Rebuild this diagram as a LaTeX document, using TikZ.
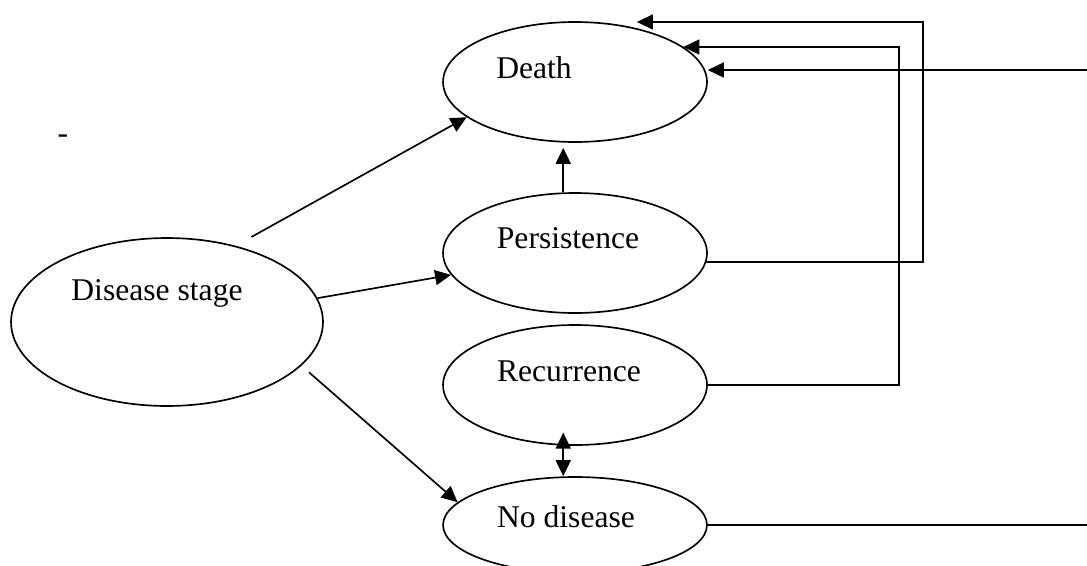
\documentclass[tikz,border=0pt]{standalone}
\usepackage{fontspec}
\setmainfont{Liberation Serif}
\usetikzlibrary{arrows.meta,shapes.geometric}

\begin{document}
\begin{tikzpicture}[x=0.02cm,y=-0.02cm,font=\fontsize{18}{22}\selectfont]
\tikzset{
  statenode/.style={ellipse,draw,line width=0.95pt,inner sep=0pt,minimum width=5.28cm,minimum height=2.4cm},
  directed/.style={-{Triangle[length=0.32cm,width=0.3cm]},line width=0.95pt},
  twoway/.style={{Triangle[length=0.32cm,width=0.3cm]}-{Triangle[length=0.32cm,width=0.3cm]},line width=0.95pt},
  plain/.style={line width=0.95pt}
}
\useasboundingbox (0,0) rectangle (1087,565);
\node[statenode,minimum width=6.24cm,minimum height=3.36cm,label={[shift={(-10,-29)}]center:Disease stage}] (n_stage) at (167,322) {};
\node[statenode,label={[shift={(-41,-14)}]center:Death}] (n_death) at (575,82) {};
\node[statenode,label={[shift={(-7,-15)}]center:Persistence}] (n_pers) at (575,253) {};
\node[statenode,label={[shift={(-6,-14)}]center:Recurrence}] (n_recur) at (575,385) {};
\node[statenode,minimum height=1.92cm,label={[shift={(-9,-8)}]center:No disease}] (n_nodis) at (575,525) {};
\node (n_dash) at (63,139) {-};
\coordinate (k_pers) at (923,22);
\coordinate (k_recur) at (899,47);
\coordinate (k_top) at (1087,70);
\coordinate (k_low) at (1087,525);
\draw[directed,shorten <=0.36cm] (n_stage.48) -- (n_death.198);
\draw[directed] (n_stage.9) -- (n_pers.190);
\draw[directed,shorten <=0.2cm] (n_stage.342) -- (n_nodis.169);
\draw[directed,shorten >=0.1cm] (n_pers.101) -- (n_pers.101 |- n_death.south);
\draw[twoway,shorten <=-0.26cm] (n_recur.259) -- (n_recur.259 |- n_nodis.north);
\draw[directed] (n_pers.356) -| (k_pers) -- (k_pers -| n_death.41);
\draw[directed] (n_recur.east) -| (k_recur) -- (k_recur -| n_death.18);
\draw[plain] (n_nodis.east) -- (k_low);
\draw[directed] (k_top) -- (k_top -| n_death.east);
\end{tikzpicture}
\end{document}
